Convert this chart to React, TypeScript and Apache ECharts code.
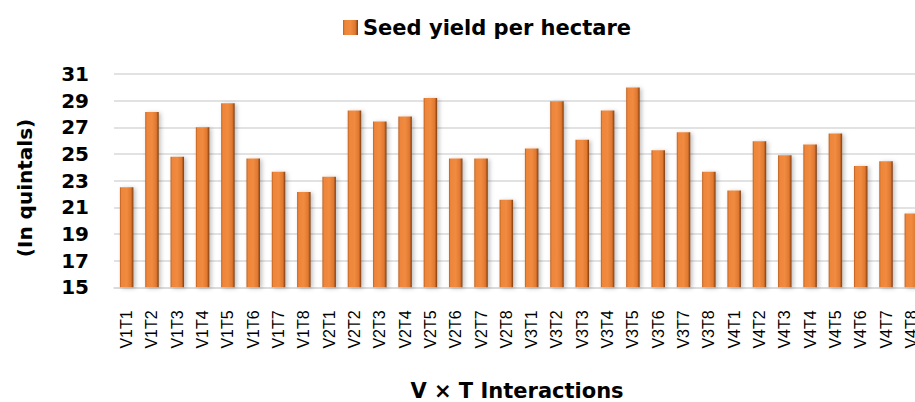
import React, { useEffect, useRef } from "react";
import * as echarts from "echarts";

const categories = [
  "V1T1", "V1T2", "V1T3", "V1T4", "V1T5", "V1T6", "V1T7", "V1T8",
  "V2T1", "V2T2", "V2T3", "V2T4", "V2T5", "V2T6", "V2T7", "V2T8",
  "V3T1", "V3T2", "V3T3", "V3T4", "V3T5", "V3T6", "V3T7", "V3T8",
  "V4T1", "V4T2", "V4T3", "V4T4", "V4T5", "V4T6", "V4T7", "V4T8",
];

const seedYield = [
  22.5, 28.15, 24.8, 27.0, 28.8, 24.66, 23.66, 22.14,
  23.3, 28.26, 27.43, 27.81, 29.2, 24.66, 24.66, 21.56,
  25.41, 28.96, 26.06, 28.26, 29.98, 25.28, 26.63, 23.66,
  22.27, 25.96, 24.91, 25.71, 26.54, 24.09, 24.46, 20.54,
];

const seriesName = "Seed yield per hectare";
const yAxisTitle = "(In quintals)";
const xAxisTitle = "V × T Interactions";
const yMin = 15;
const yMax = 31;
const yStep = 2;

export default function App() {
  const ref = useRef<HTMLDivElement>(null);

  useEffect(() => {
    if (!ref.current) return;
    const chart = echarts.init(ref.current, undefined, { renderer: "svg" });
    const barColor = new echarts.graphic.LinearGradient(0, 0, 1, 0, [
      { offset: 0, color: "#B85E22" },
      { offset: 0.12, color: "#EE8539" },
      { offset: 0.5, color: "#F08B40" },
      { offset: 0.82, color: "#E07830" },
      { offset: 0.92, color: "#A9561C" },
      { offset: 1, color: "#7A3E14" },
    ]);
    chart.setOption({
      animation: false,
      backgroundColor: "#ffffff",
      legend: {
        data: [seriesName],
        left: 338,
        top: 12,
        itemWidth: 15,
        itemHeight: 15,
        itemGap: 8,
        icon: "rect",
        textStyle: {
          fontFamily: "DejaVu Sans",
          fontWeight: "bold",
          fontSize: 21,
          color: "#000",
        },
      },
      grid: {
        left: 114,
        top: 74,
        width: 810,
        height: 213.3,
        containLabel: false,
      },
      xAxis: {
        type: "category",
        data: categories,
        axisTick: { show: false },
        axisLine: { show: true, lineStyle: { color: "#D9D9D9", width: 1.5 } },
        axisLabel: {
          interval: 0,
          rotate: 90,
          margin: 23,
          fontFamily: "Liberation Sans",
          fontSize: 16,
          color: "#000",
        },
      },
      yAxis: {
        type: "value",
        min: yMin,
        max: yMax,
        interval: yStep,
        axisLine: { show: false },
        axisTick: { show: false },
        splitLine: { lineStyle: { color: "#D9D9D9", width: 1.5 } },
        axisLabel: {
          margin: 25,
          fontFamily: "DejaVu Sans",
          fontWeight: "bold",
          fontSize: 20,
          color: "#000",
        },
      },
      graphic: [
        {
          type: "text",
          x: 25,
          y: 188,
          rotation: Math.PI / 2,
          style: {
            text: yAxisTitle,
            fontFamily: "DejaVu Sans",
            fontWeight: "bold",
            fontSize: 20,
            fill: "#000",
            align: "center",
            verticalAlign: "middle",
          },
        },
        {
          type: "text",
          x: 517,
          y: 391,
          style: {
            text: xAxisTitle,
            fontFamily: "DejaVu Sans",
            fontWeight: "bold",
            fontSize: 21,
            fill: "#000",
            align: "center",
            verticalAlign: "middle",
          },
        },
      ],
      series: [
        {
          name: seriesName,
          type: "bar",
          data: seedYield,
          barWidth: 13.5,
          itemStyle: {
            color: barColor,
            shadowColor: "rgba(0,0,0,0.25)",
            shadowBlur: 4,
            shadowOffsetX: 2,
            shadowOffsetY: 1,
          },
        },
      ],
    });
    return () => chart.dispose();
  }, []);

  return (
    <div
      style={{
        position: "absolute",
        left: 0,
        top: 0,
        width: 915,
        height: 402,
        overflow: "hidden",
      }}
    >
      <div ref={ref} style={{ width: 940, height: 402 }} />
    </div>
  );
}
